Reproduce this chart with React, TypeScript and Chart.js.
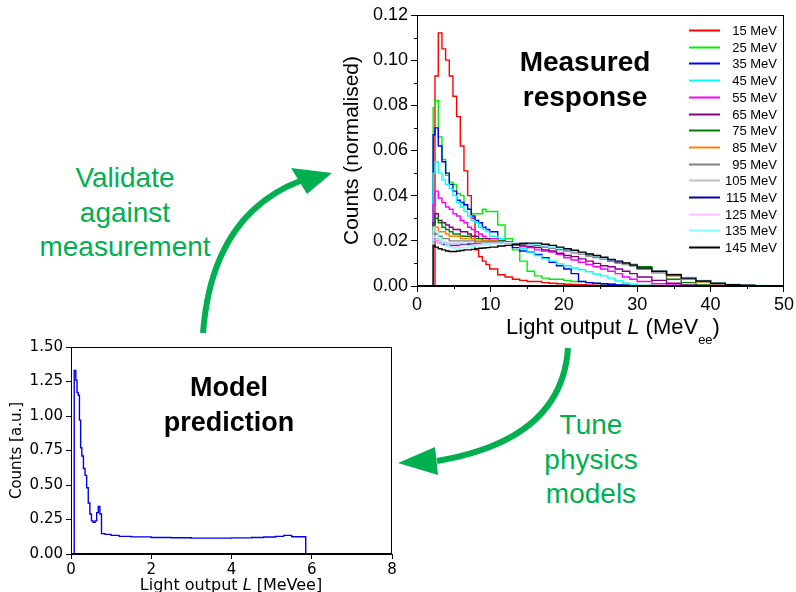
import React, { useEffect, useRef } from 'react';
import { Chart, registerables } from 'chart.js';

Chart.register(...registerables);

// ---------- Measured response (top chart) ----------
const responseEdges = [2.2, 2.45, 2.9, 3.4, 3.9, 4.4, 4.9, 5.4, 5.9, 6.4, 6.9, 7.4, 7.9, 8.4, 8.9, 9.4, 9.9, 11, 12, 13, 14, 15, 16, 17, 18, 19, 20, 21, 22, 23, 24, 25, 26, 27, 28, 29, 30, 32, 34, 36, 38, 40, 42, 44, 46, 48, 50];

const energyLabels = ['15 MeV', '25 MeV', '35 MeV', '45 MeV', '55 MeV', '65 MeV', '75 MeV', '85 MeV', '95 MeV', '105 MeV', '115 MeV', '125 MeV', '135 MeV', '145 MeV'];
const seriesColors = ['#ff0000', '#00ee00', '#0000ff', '#00ffff', '#ff00ff', '#800080', '#008000', '#ff8000', '#808080', '#c0c0c0', '#0000a8', '#ffc0ff', '#80ffff', '#000000'];

const mev15 = [0, 0.093, 0.112, 0.105, 0.100, 0.093, 0.084, 0.075, 0.062, 0.051, 0.040, 0.030, 0.016, 0.013, 0.011, 0.0095, 0.0075, 0.005, 0.004, 0.003, 0.0025, 0.002, 0.002, 0.0015, 0.0012, 0.001, 0.0008, 0.0007, 0.0006, 0.0005, 0.0004, 0.0003, 0.0002, 0.0002, 0.0001, 0.0001, 0, 0, 0, 0, 0, 0, 0, 0, 0, 0];
const mev25 = [0.079, 0.082, 0.066, 0.056, 0.049, 0.046, 0.045, 0.041, 0.040, 0.036, 0.034, 0.032, 0.032, 0.032, 0.034, 0.033, 0.033, 0.027, 0.021, 0.016, 0.011, 0.0065, 0.0045, 0.0035, 0.003, 0.003, 0.0025, 0.002, 0.002, 0.0015, 0.0012, 0.001, 0.0008, 0.0006, 0.0005, 0.0004, 0.0002, 0.0001, 0, 0, 0, 0, 0, 0, 0, 0];
const mev35 = [0.067, 0.070, 0.062, 0.055, 0.050, 0.045, 0.042, 0.038, 0.037, 0.036, 0.034, 0.031, 0.029, 0.028, 0.026, 0.025, 0.024, 0.021, 0.019, 0.017, 0.0155, 0.015, 0.014, 0.0125, 0.0105, 0.009, 0.0075, 0.0055, 0.002, 0.0015, 0.0012, 0.001, 0.0008, 0.0005, 0.0003, 0.0002, 0.0001, 0, 0, 0, 0, 0, 0, 0, 0, 0];
const mev45 = [0.050, 0.055, 0.050, 0.047, 0.045, 0.043, 0.040, 0.037, 0.035, 0.033, 0.031, 0.029, 0.028, 0.026, 0.025, 0.024, 0.022, 0.021, 0.0195, 0.018, 0.0165, 0.015, 0.0135, 0.012, 0.011, 0.0098, 0.009, 0.008, 0.0072, 0.0063, 0.0053, 0.0045, 0.0035, 0.0022, 0.0012, 0.0008, 0.0004, 0.0001, 0, 0, 0, 0, 0, 0, 0, 0];
const mev55 = [0.036, 0.042, 0.039, 0.037, 0.035, 0.034, 0.032, 0.031, 0.029, 0.028, 0.026, 0.025, 0.024, 0.023, 0.022, 0.021, 0.021, 0.020, 0.019, 0.018, 0.0175, 0.017, 0.016, 0.0155, 0.015, 0.014, 0.0125, 0.0115, 0.0105, 0.0095, 0.0085, 0.0075, 0.0065, 0.0055, 0.004, 0.003, 0.002, 0.001, 0.0005, 0.0002, 0, 0, 0, 0, 0, 0];
const mev65 = [0.028, 0.032, 0.029, 0.028, 0.027, 0.026, 0.025, 0.025, 0.024, 0.024, 0.023, 0.022, 0.022, 0.021, 0.021, 0.021, 0.020, 0.020, 0.019, 0.019, 0.018, 0.0175, 0.017, 0.016, 0.0155, 0.0145, 0.0135, 0.013, 0.012, 0.011, 0.010, 0.009, 0.0085, 0.0075, 0.0065, 0.0055, 0.004, 0.0025, 0.0012, 0.0005, 0.0002, 0, 0, 0, 0, 0];
const mev75 = [0.027, 0.030, 0.028, 0.026, 0.025, 0.024, 0.023, 0.023, 0.022, 0.022, 0.022, 0.021, 0.021, 0.021, 0.020, 0.020, 0.020, 0.020, 0.0195, 0.019, 0.019, 0.0185, 0.018, 0.0175, 0.017, 0.0165, 0.016, 0.015, 0.0145, 0.014, 0.013, 0.012, 0.011, 0.0105, 0.010, 0.0095, 0.0085, 0.006, 0.003, 0.0015, 0.0005, 0.0002, 0, 0, 0, 0];
const mev85 = [0.025, 0.026, 0.024, 0.024, 0.023, 0.022, 0.022, 0.022, 0.021, 0.021, 0.021, 0.021, 0.020, 0.020, 0.020, 0.020, 0.020, 0.0195, 0.019, 0.019, 0.0185, 0.0182, 0.018, 0.0175, 0.017, 0.0163, 0.0157, 0.015, 0.0143, 0.0135, 0.0128, 0.012, 0.0112, 0.0104, 0.0096, 0.0088, 0.0075, 0.006, 0.0045, 0.003, 0.0017, 0.0008, 0.0003, 0.0001, 0, 0];
const mev95 = [0.024, 0.023, 0.022, 0.021, 0.021, 0.020, 0.020, 0.020, 0.020, 0.020, 0.020, 0.020, 0.0195, 0.0195, 0.0195, 0.0195, 0.0195, 0.019, 0.019, 0.0188, 0.0185, 0.018, 0.0178, 0.0172, 0.0167, 0.016, 0.0154, 0.0147, 0.014, 0.0133, 0.0126, 0.0118, 0.011, 0.0102, 0.0095, 0.0087, 0.0075, 0.006, 0.0046, 0.0032, 0.002, 0.001, 0.0004, 0.0002, 0.0001, 0];
const mev105 = [0.022, 0.021, 0.020, 0.0195, 0.019, 0.019, 0.019, 0.019, 0.019, 0.019, 0.019, 0.019, 0.019, 0.019, 0.019, 0.019, 0.019, 0.019, 0.0188, 0.0187, 0.0185, 0.018, 0.0178, 0.0173, 0.0168, 0.0162, 0.0156, 0.015, 0.0143, 0.0136, 0.0129, 0.0121, 0.0114, 0.0106, 0.0098, 0.009, 0.0078, 0.0063, 0.0049, 0.0035, 0.0022, 0.0012, 0.0005, 0.0002, 0.0001, 0];
const mev115 = [0.021, 0.020, 0.019, 0.0185, 0.018, 0.018, 0.018, 0.018, 0.0182, 0.0182, 0.0185, 0.0185, 0.0185, 0.0187, 0.0187, 0.0188, 0.019, 0.019, 0.019, 0.019, 0.0188, 0.0185, 0.018, 0.0175, 0.017, 0.0165, 0.0158, 0.0152, 0.0145, 0.0138, 0.013, 0.0123, 0.0115, 0.0107, 0.010, 0.0092, 0.008, 0.0066, 0.0051, 0.0037, 0.0024, 0.0013, 0.0006, 0.0003, 0.0001, 0];
const mev125 = [0.022, 0.020, 0.019, 0.018, 0.0178, 0.0175, 0.0175, 0.0175, 0.0178, 0.018, 0.018, 0.0182, 0.0183, 0.0185, 0.0187, 0.0188, 0.019, 0.019, 0.0192, 0.0192, 0.019, 0.0187, 0.0183, 0.0178, 0.0172, 0.0166, 0.016, 0.0153, 0.0146, 0.0139, 0.0132, 0.0124, 0.0117, 0.0109, 0.0101, 0.0093, 0.0081, 0.0067, 0.0052, 0.0038, 0.0025, 0.0014, 0.0007, 0.0003, 0.0001, 0];
const mev135 = [0.026, 0.024, 0.021, 0.019, 0.0175, 0.017, 0.0168, 0.0168, 0.017, 0.017, 0.0172, 0.0175, 0.0178, 0.018, 0.0182, 0.0185, 0.0188, 0.019, 0.019, 0.019, 0.0188, 0.0186, 0.0183, 0.0178, 0.0173, 0.0167, 0.0161, 0.0154, 0.0147, 0.014, 0.0133, 0.0125, 0.0117, 0.0109, 0.0101, 0.0093, 0.0081, 0.0067, 0.0052, 0.0038, 0.0025, 0.0015, 0.0008, 0.0004, 0.0002, 0.0001];
const mev145 = [0.018, 0.0172, 0.0165, 0.016, 0.0155, 0.0153, 0.0153, 0.0155, 0.0157, 0.016, 0.016, 0.0162, 0.0165, 0.0167, 0.0168, 0.017, 0.0172, 0.0177, 0.018, 0.0185, 0.0188, 0.019, 0.019, 0.0185, 0.018, 0.0172, 0.0165, 0.0158, 0.015, 0.0142, 0.0135, 0.0127, 0.0118, 0.011, 0.0102, 0.0093, 0.008, 0.0065, 0.005, 0.0035, 0.0022, 0.0012, 0.0006, 0.0003, 0.0001, 0];

const responseSeries = [mev15, mev25, mev35, mev45, mev55, mev65, mev75, mev85, mev95, mev105, mev115, mev125, mev135, mev145];

const measuredMinorX = [5, 15, 25, 35, 45];
const measuredMinorY = [0.01, 0.03, 0.05, 0.07, 0.09, 0.11];

// ---------- Model prediction (bottom chart) ----------
const modelEdges = [0, 0.08, 0.12, 0.15, 0.18, 0.21, 0.24, 0.27, 0.31, 0.35, 0.39, 0.43, 0.47, 0.51, 0.55, 0.60, 0.64, 0.68, 0.72, 0.76, 0.85, 1.0, 1.2, 1.5, 2.0, 2.5, 3.0, 3.5, 4.0, 4.5, 4.8, 5.1, 5.3, 5.5, 5.85, 8.0];
const modelCounts = [0, 1.33, 1.26, 1.17, 1.15, 0.97, 0.77, 0.71, 0.62, 0.57, 0.48, 0.37, 0.29, 0.24, 0.23, 0.24, 0.30, 0.345, 0.29, 0.148, 0.142, 0.135, 0.128, 0.124, 0.12, 0.118, 0.115, 0.115, 0.117, 0.12, 0.123, 0.128, 0.135, 0.125, 0.003];

const GREEN = '#00b050';
const ARIAL = '"Liberation Sans", Arial, Helvetica, sans-serif';
const DEJAVU = '"DejaVu Sans", Verdana, sans-serif';

function histPoints(edges: number[], values: number[]) {
  const pts = [{ x: edges[0], y: 0 }];
  for (let i = 0; i < values.length; i++) pts.push({ x: edges[i], y: values[i] });
  pts.push({ x: edges[edges.length - 1], y: values[values.length - 1] });
  return pts;
}

const framePlugin = {
  id: 'frame',
  afterDatasetsDraw(chart: any) {
    const { ctx, chartArea } = chart;
    ctx.save();
    ctx.strokeStyle = '#000';
    ctx.lineWidth = 1;
    const l = Math.round(chartArea.left) + 0.5;
    const t = Math.round(chartArea.top) + 0.5;
    const r = Math.round(chartArea.right) - 0.5;
    const b = Math.round(chartArea.bottom) - 0.5;
    ctx.strokeRect(l, t, r - l, b - t);
    ctx.restore();
  },
};

function MeasuredChart() {
  const ref = useRef<HTMLCanvasElement>(null);
  useEffect(() => {
    const minorPlugin = {
      id: 'minorTicks',
      afterDraw(chart: any) {
        const { ctx, chartArea, scales } = chart;
        ctx.save();
        ctx.strokeStyle = '#000';
        ctx.lineWidth = 1;
        measuredMinorX.forEach((v) => {
          const px = Math.round(scales.x.getPixelForValue(v)) + 0.5;
          ctx.beginPath();
          ctx.moveTo(px, chartArea.bottom);
          ctx.lineTo(px, chartArea.bottom + 3);
          ctx.stroke();
        });
        measuredMinorY.forEach((v) => {
          const py = Math.round(scales.y.getPixelForValue(v)) + 0.5;
          ctx.beginPath();
          ctx.moveTo(chartArea.left, py);
          ctx.lineTo(chartArea.left - 3, py);
          ctx.stroke();
        });
        ctx.restore();
      },
    };
    const legendPlugin = {
      id: 'energyLegend',
      afterDraw(chart: any) {
        const { ctx } = chart;
        ctx.save();
        ctx.font = `13px ${ARIAL}`;
        ctx.textAlign = 'right';
        ctx.textBaseline = 'middle';
        energyLabels.forEach((lab, i) => {
          const y = Math.round(30 + i * 16.7) + 0.5;
          ctx.strokeStyle = seriesColors[i];
          ctx.lineWidth = 2;
          ctx.beginPath();
          ctx.moveTo(354, y);
          ctx.lineTo(385, y);
          ctx.stroke();
          ctx.fillStyle = '#000';
          ctx.fillText(lab, 442, y + 1);
        });
        ctx.restore();
      },
    };
    const chart = new Chart(ref.current as HTMLCanvasElement, {
      type: 'line',
      data: {
        datasets: responseSeries.map((vals, i) => ({
          label: energyLabels[i],
          data: histPoints(responseEdges, vals),
          borderColor: seriesColors[i],
          borderWidth: 1.4,
          pointRadius: 0,
          fill: false,
          stepped: true,
          order: responseSeries.length - 1 - i,
        })),
      },
      options: {
        responsive: false,
        animation: false,
        events: [],
        layout: { padding: { top: 15, right: 11, left: 0, bottom: 0 } },
        plugins: { legend: { display: false }, tooltip: { enabled: false } },
        scales: {
          x: {
            type: 'linear',
            min: 0,
            max: 50,
            afterFit: (s: any) => { s.height = 59; },
            ticks: { stepSize: 10, color: '#000', font: { family: ARIAL, size: 18 }, padding: 2, maxRotation: 0 },
            grid: { drawOnChartArea: false, drawTicks: true, tickLength: 6, color: '#000', lineWidth: 1 },
            border: { display: true, color: '#000', width: 1 },
          },
          y: {
            type: 'linear',
            min: 0,
            max: 0.12,
            afterFit: (s: any) => { s.width = 82; },
            ticks: {
              stepSize: 0.02,
              color: '#000',
              font: { family: ARIAL, size: 18 },
              padding: 3,
              callback: (v: any) => Number(v).toFixed(2),
            },
            grid: { drawOnChartArea: false, drawTicks: true, tickLength: 6, color: '#000', lineWidth: 1 },
            border: { display: true, color: '#000', width: 1 },
            title: {
              display: true,
              text: 'Counts (normalised)',
              color: '#000',
              font: { family: ARIAL, size: 21 },
              padding: { top: 5, bottom: 0 },
            },
          },
        },
      },
      plugins: [framePlugin, minorPlugin, legendPlugin],
    } as any);
    return () => chart.destroy();
  }, []);
  return (
    <canvas
      ref={ref}
      width={461}
      height={345}
      style={{ position: 'absolute', left: 335, top: 0, width: 461, height: 345 }}
    />
  );
}

function ModelChart() {
  const ref = useRef<HTMLCanvasElement>(null);
  useEffect(() => {
    const chart = new Chart(ref.current as HTMLCanvasElement, {
      type: 'line',
      data: {
        datasets: [
          {
            label: 'Model',
            data: histPoints(modelEdges, modelCounts),
            borderColor: '#0000ee',
            borderWidth: 1.4,
            pointRadius: 0,
            fill: false,
            stepped: true,
          },
        ],
      },
      options: {
        responsive: false,
        animation: false,
        events: [],
        layout: { padding: { top: 7, right: 8, left: 0, bottom: 0 } },
        plugins: { legend: { display: false }, tooltip: { enabled: false } },
        scales: {
          x: {
            type: 'linear',
            min: 0,
            max: 8,
            afterFit: (s: any) => { s.height = 46; },
            ticks: { stepSize: 2, color: '#000', font: { family: DEJAVU, size: 15 }, padding: 2, maxRotation: 0 },
            grid: { drawOnChartArea: false, drawTicks: true, tickLength: 5, color: '#000', lineWidth: 1 },
            border: { display: true, color: '#000', width: 1 },
          },
          y: {
            type: 'linear',
            min: 0,
            max: 1.5,
            afterFit: (s: any) => { s.width = 71; },
            ticks: {
              stepSize: 0.25,
              color: '#000',
              font: { family: DEJAVU, size: 15 },
              padding: 3,
              callback: (v: any) => Number(v).toFixed(2),
            },
            grid: { drawOnChartArea: false, drawTicks: true, tickLength: 5, color: '#000', lineWidth: 1 },
            border: { display: true, color: '#000', width: 1 },
            title: {
              display: true,
              text: 'Counts [a.u.]',
              color: '#000',
              font: { family: DEJAVU, size: 15 },
              padding: { top: 8, bottom: 0 },
            },
          },
        },
      },
      plugins: [framePlugin],
    } as any);
    return () => chart.destroy();
  }, []);
  return (
    <canvas
      ref={ref}
      width={400}
      height={265}
      style={{ position: 'absolute', left: 0, top: 335, width: 400, height: 265 }}
    />
  );
}

const abs = (left: number, top: number, width: number, extra: any = {}) => ({
  position: 'absolute' as const,
  left,
  top,
  width,
  textAlign: 'center' as const,
  whiteSpace: 'nowrap' as const,
  ...extra,
});

export default function App() {
  return (
    <div
      style={{
        position: 'absolute',
        left: 0,
        top: 0,
        width: 796,
        height: 592,
        overflow: 'hidden',
        background: '#fff',
      }}
    >
      <MeasuredChart />
      <ModelChart />

      {/* axis titles with italic / subscript parts */}
      <div style={abs(463, 314, 300, { font: `22px/26px ${ARIAL}`, color: '#000' })}>
        Light output <i>L</i> (MeV<span style={{ fontSize: 13, verticalAlign: -10 }}>ee</span>)
      </div>
      <div style={abs(81, 575, 300, { font: `16px/19px ${DEJAVU}`, color: '#000' })}>
        Light output <i>L</i> [MeVee]
      </div>

      {/* panel labels */}
      <div style={abs(435, 45, 300, { font: `bold 28px/34.5px ${ARIAL}`, color: '#000' })}>
        Measured
        <br />
        response
      </div>
      <div style={abs(79, 370, 300, { font: `bold 27px/35px ${ARIAL}`, color: '#000' })}>
        Model
        <br />
        prediction
      </div>

      {/* green annotations */}
      <div style={abs(5, 161, 240, { font: `28px/34.5px ${ARIAL}`, color: GREEN })}>
        Validate
        <br />
        against
        <br />
        measurement
      </div>
      <div style={abs(471, 408, 240, { font: `28px/34.5px ${ARIAL}`, color: GREEN })}>
        Tune
        <br />
        physics
        <br />
        models
      </div>

      <svg
        width={796}
        height={592}
        style={{ position: 'absolute', left: 0, top: 0, pointerEvents: 'none' }}
      >
        <path d="M 203 333 Q 212 215 300 181" stroke={GREEN} strokeWidth={6} fill="none" />
        <polygon points="291,168 307,194 332,173" fill={GREEN} />
        <path d="M 568 348 Q 562 440 437 461" stroke={GREEN} strokeWidth={6} fill="none" />
        <polygon points="435,447 438,475 398,463" fill={GREEN} />
      </svg>
    </div>
  );
}
